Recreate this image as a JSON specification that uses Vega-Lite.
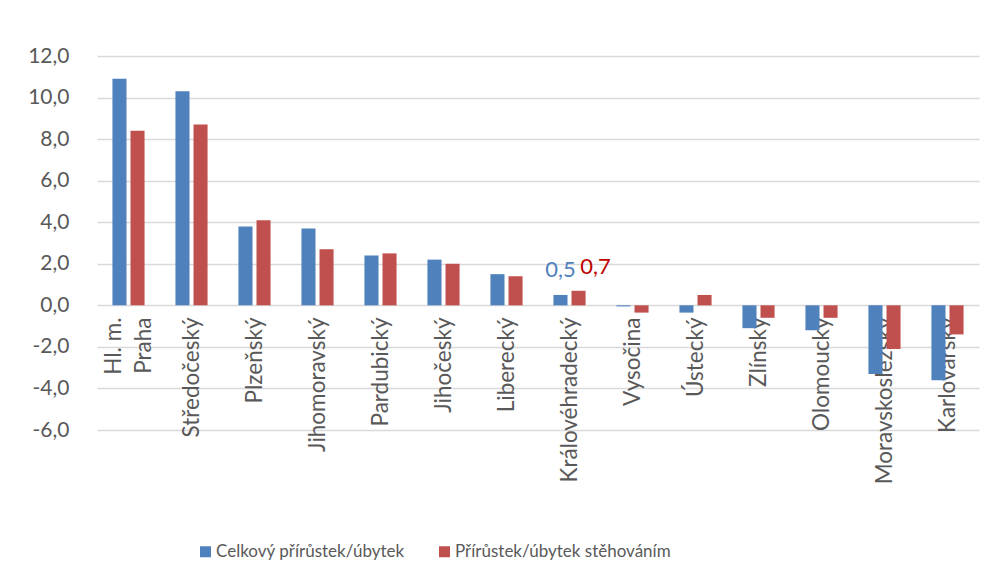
{
  "$schema": "https://vega.github.io/schema/vega-lite/v6.json",
  "width": 882,
  "height": 374,
  "autosize": "none",
  "padding": {"left": 97, "top": 56, "right": 18, "bottom": 154},
  "background": "white",
  "config": {
    "font": "Lato",
    "view": {"stroke": null},
    "locale": {"number": {"decimal": ",", "thousands": " ", "grouping": [3], "currency": ["", " Kč"], "minus": "-"}},
    "axis": {"labelColor": "#595959", "labelFont": "Lato", "titleFont": "Lato"}
  },
  "data": {
    "values": [
      {"region": "Hl. m. Praha", "series": "Celkový přírůstek/úbytek", "value": 10.9},
      {"region": "Hl. m. Praha", "series": "Přírůstek/úbytek stěhováním", "value": 8.4},
      {"region": "Středočeský", "series": "Celkový přírůstek/úbytek", "value": 10.3},
      {"region": "Středočeský", "series": "Přírůstek/úbytek stěhováním", "value": 8.7},
      {"region": "Plzeňský", "series": "Celkový přírůstek/úbytek", "value": 3.8},
      {"region": "Plzeňský", "series": "Přírůstek/úbytek stěhováním", "value": 4.1},
      {"region": "Jihomoravský", "series": "Celkový přírůstek/úbytek", "value": 3.7},
      {"region": "Jihomoravský", "series": "Přírůstek/úbytek stěhováním", "value": 2.7},
      {"region": "Pardubický", "series": "Celkový přírůstek/úbytek", "value": 2.4},
      {"region": "Pardubický", "series": "Přírůstek/úbytek stěhováním", "value": 2.5},
      {"region": "Jihočeský", "series": "Celkový přírůstek/úbytek", "value": 2.2},
      {"region": "Jihočeský", "series": "Přírůstek/úbytek stěhováním", "value": 2.0},
      {"region": "Liberecký", "series": "Celkový přírůstek/úbytek", "value": 1.5},
      {"region": "Liberecký", "series": "Přírůstek/úbytek stěhováním", "value": 1.4},
      {"region": "Královéhradecký", "series": "Celkový přírůstek/úbytek", "value": 0.5},
      {"region": "Královéhradecký", "series": "Přírůstek/úbytek stěhováním", "value": 0.7},
      {"region": "Vysočina", "series": "Celkový přírůstek/úbytek", "value": -0.05},
      {"region": "Vysočina", "series": "Přírůstek/úbytek stěhováním", "value": -0.35},
      {"region": "Ústecký", "series": "Celkový přírůstek/úbytek", "value": -0.35},
      {"region": "Ústecký", "series": "Přírůstek/úbytek stěhováním", "value": 0.5},
      {"region": "Zlínský", "series": "Celkový přírůstek/úbytek", "value": -1.1},
      {"region": "Zlínský", "series": "Přírůstek/úbytek stěhováním", "value": -0.6},
      {"region": "Olomoucký", "series": "Celkový přírůstek/úbytek", "value": -1.2},
      {"region": "Olomoucký", "series": "Přírůstek/úbytek stěhováním", "value": -0.6},
      {"region": "Moravskoslezský", "series": "Celkový přírůstek/úbytek", "value": -3.3},
      {"region": "Moravskoslezský", "series": "Přírůstek/úbytek stěhováním", "value": -2.1},
      {"region": "Karlovarský", "series": "Celkový přírůstek/úbytek", "value": -3.6},
      {"region": "Karlovarský", "series": "Přírůstek/úbytek stěhováním", "value": -1.4}
    ]
  },
  "encoding": {
    "x": {
      "field": "region",
      "type": "nominal",
      "sort": null,
      "title": null,
      "scale": {"paddingInner": 0.49, "paddingOuter": 0.245},
      "axis": {
        "offset": -125,
        "domain": false,
        "ticks": false,
        "grid": false,
        "labelAngle": -90,
        "labelAlign": "right",
        "labelBaseline": "middle",
        "labelPadding": 12,
        "labelFontSize": 22.5,
        "labelLineHeight": 30,
        "labelLimit": 300,
        "labelOffset": {"condition": {"test": "datum.label == 'Hl. m. Praha'", "value": -15}, "value": 0},
        "labelExpr": "datum.label == 'Hl. m. Praha' ? ['Hl. m.', 'Praha'] : datum.label"
      }
    },
    "xOffset": {
      "field": "series",
      "sort": ["Celkový přírůstek/úbytek", "Přírůstek/úbytek stěhováním"],
      "scale": {"paddingInner": 0.222}
    },
    "y": {
      "field": "value",
      "type": "quantitative",
      "title": null,
      "scale": {"domain": [-6, 12], "nice": false, "zero": false},
      "axis": {
        "values": [-6, -4, -2, 0, 2, 4, 6, 8, 10, 12],
        "format": ".1f",
        "domain": false,
        "ticks": false,
        "labelPadding": 28,
        "labelFontSize": 21,
        "gridColor": "#D9D9D9",
        "gridWidth": 1.3
      }
    }
  },
  "layer": [
    {
      "mark": {"type": "bar"},
      "encoding": {
        "color": {
          "field": "series",
          "type": "nominal",
          "scale": {
            "domain": ["Celkový přírůstek/úbytek", "Přírůstek/úbytek stěhováním"],
            "range": ["#4F81BD", "#C0504D"]
          },
          "legend": {
            "title": null,
            "orient": "none",
            "legendX": 100,
            "legendY": 487,
            "direction": "horizontal",
            "symbolType": "square",
            "symbolSize": 121,
            "symbolStrokeWidth": 0,
            "labelFontSize": 17,
            "labelColor": "#595959",
            "labelFont": "Lato",
            "labelLimit": 400,
            "columnPadding": 31,
            "labelOffset": 2
          }
        }
      }
    },
    {
      "transform": [{"filter": "datum.region == 'Královéhradecký' && datum.series == 'Celkový přírůstek/úbytek'"}],
      "mark": {"type": "text", "baseline": "alphabetic", "dy": -18, "fontSize": 22, "color": "#4F81BD"},
      "encoding": {"text": {"field": "value", "type": "quantitative", "format": ".1f"}}
    },
    {
      "transform": [{"filter": "datum.region == 'Královéhradecký' && datum.series == 'Přírůstek/úbytek stěhováním'"}],
      "mark": {"type": "text", "baseline": "alphabetic", "dy": -17, "dx": 17, "fontSize": 22, "color": "#C00000"},
      "encoding": {"text": {"field": "value", "type": "quantitative", "format": ".1f"}}
    }
  ]
}
